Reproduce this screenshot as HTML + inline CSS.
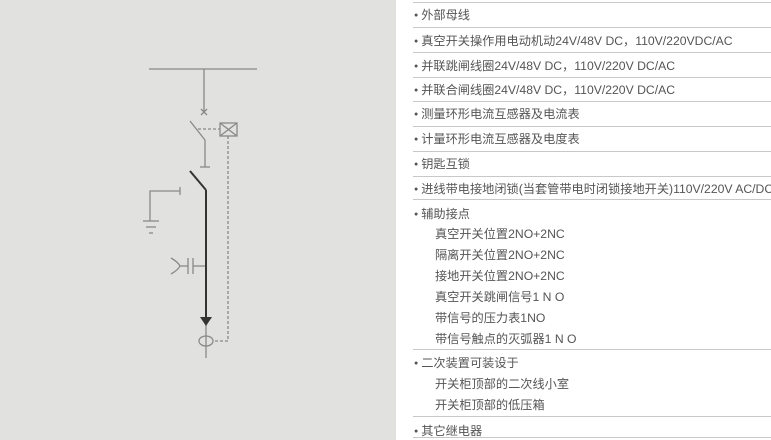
<!DOCTYPE html>
<html><head><meta charset="utf-8"><style>
body{margin:0;width:771px;height:440px;overflow:hidden;background:#fff;position:relative;font-family:"Liberation Sans","Noto Sans CJK SC",sans-serif;}
#g{position:absolute;left:0;top:0;width:396px;height:440px;background:#e1e1e0;}
.ln{position:absolute;left:413px;width:358px;height:1px;background:#c8c8c8;}
.t{position:absolute;left:414px;font-size:12.2px;color:#555;white-space:nowrap;line-height:14px;}
.t b{font-weight:normal;font-size:7px;vertical-align:2px;margin-right:3px;}
.s{left:435px;}
</style></head><body>
<div id="g"></div>
<svg style="position:absolute;left:0;top:0" width="396" height="440">
<g stroke="#8a8a8a" stroke-width="1.3" fill="none">
<line x1="149" y1="69" x2="257" y2="69"/>
<line x1="204" y1="69" x2="204" y2="112"/>
<line x1="201" y1="109" x2="207" y2="115"/><line x1="207" y1="109" x2="201" y2="115"/>
<line x1="190" y1="121" x2="205" y2="140"/>
<line x1="205" y1="140" x2="205" y2="167"/>
<line x1="200" y1="167" x2="210" y2="167"/>
<line x1="198" y1="129" x2="220" y2="129" stroke-dasharray="3,2"/>
<rect x="220" y="123" width="17" height="13"/>
<line x1="220" y1="123" x2="237" y2="136"/><line x1="237" y1="123" x2="220" y2="136"/>
<polyline points="228,136 228,341 213,341" stroke-dasharray="3,2"/>
<polyline points="180,187 180,195"/>
<polyline points="180,191 150,191 150,221"/>
<line x1="143" y1="221" x2="159" y2="221"/>
<line x1="146" y1="227" x2="156" y2="227"/>
<line x1="149" y1="233" x2="153" y2="233"/>
<line x1="206" y1="266" x2="193" y2="266"/>
<line x1="193" y1="258" x2="193" y2="274"/>
<line x1="188" y1="258" x2="188" y2="274"/>
<line x1="188" y1="266" x2="180" y2="266"/>
<path d="M171,258 Q178,262 180,266 Q178,270 171,274"/>
<ellipse cx="206" cy="341" rx="7" ry="5"/>
<line x1="206" y1="325" x2="206" y2="358"/>
</g>
<g stroke="#333" stroke-width="2" fill="none">
<line x1="190" y1="171" x2="206" y2="190"/>
<line x1="206" y1="190" x2="206" y2="318"/>
</g>
<polygon points="200,317 212,317 206,326" fill="#333"/>
</svg>
<div class="ln" style="top:2px"></div>
<div class="ln" style="top:27px"></div>
<div class="ln" style="top:52px"></div>
<div class="ln" style="top:77px"></div>
<div class="ln" style="top:101px"></div>
<div class="ln" style="top:126px"></div>
<div class="ln" style="top:151px"></div>
<div class="ln" style="top:176px"></div>
<div class="ln" style="top:199px"></div>
<div class="ln" style="top:349px"></div>
<div class="ln" style="top:416px"></div>
<div class="ln" style="top:437px"></div>
<div class="t" style="top:8px"><b>●</b>外部母线</div>
<div class="t" style="top:34px"><b>●</b>真空开关操作用电动机动24V/48V DC，110V/220VDC/AC</div>
<div class="t" style="top:59px"><b>●</b>并联跳闸线圈24V/48V DC，110V/220V DC/AC</div>
<div class="t" style="top:83px"><b>●</b>并联合闸线圈24V/48V DC，110V/220V DC/AC</div>
<div class="t" style="top:107px"><b>●</b>测量环形电流互感器及电流表</div>
<div class="t" style="top:132px"><b>●</b>计量环形电流互感器及电度表</div>
<div class="t" style="top:157px"><b>●</b>钥匙互锁</div>
<div class="t" style="top:182px"><b>●</b>进线带电接地闭锁(当套管带电时闭锁接地开关)110V/220V AC/DC</div>
<div class="t" style="top:207px"><b>●</b>辅助接点</div>
<div class="t s" style="top:227px">真空开关位置2NO+2NC</div>
<div class="t s" style="top:248px">隔离开关位置2NO+2NC</div>
<div class="t s" style="top:269px">接地开关位置2NO+2NC</div>
<div class="t s" style="top:290px">真空开关跳闸信号1 N O</div>
<div class="t s" style="top:311px">带信号的压力表1NO</div>
<div class="t s" style="top:332px">带信号触点的灭弧器1 N O</div>
<div class="t" style="top:356px"><b>●</b>二次装置可装设于</div>
<div class="t s" style="top:377px">开关柜顶部的二次线小室</div>
<div class="t s" style="top:398px">开关柜顶部的低压箱</div>
<div class="t" style="top:424px"><b>●</b>其它继电器</div>
</body></html>
